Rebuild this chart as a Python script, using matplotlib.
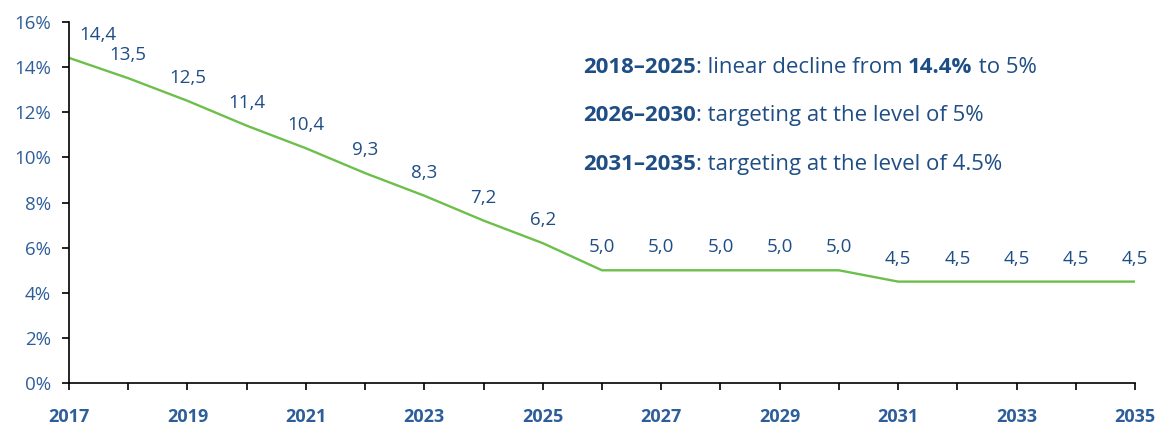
import matplotlib
matplotlib.use("Agg")
import matplotlib.pyplot as plt
from matplotlib.ticker import FixedLocator, FuncFormatter

years = [2017, 2018, 2019, 2020, 2021, 2022, 2023, 2024, 2025, 2026,
         2027, 2028, 2029, 2030, 2031, 2032, 2033, 2034, 2035]
values = [14.4, 13.5, 12.5, 11.4, 10.4, 9.3, 8.3, 7.2, 6.2, 5.0,
          5.0, 5.0, 5.0, 5.0, 4.5, 4.5, 4.5, 4.5, 4.5]
labels = ["14,4", "13,5", "12,5", "11,4", "10,4", "9,3", "8,3", "7,2", "6,2", "5,0",
          "5,0", "5,0", "5,0", "5,0", "4,5", "4,5", "4,5", "4,5", "4,5"]
y_ticks = [0, 2, 4, 6, 8, 10, 12, 14, 16]
notes = [
    [("2018–2025", "bold"), (": linear decline from ", "normal"), ("14.4%", "bold"), (" to 5%", "normal")],
    [("2026–2030", "bold"), (": targeting at the level of 5%", "normal")],
    [("2031–2035", "bold"), (": targeting at the level of 4.5%", "normal")],
]

FONT = "Open Sans"
LINE_C = "#6CBF4A"
TXT_C = "#1F4E85"
TICK_C = "#2E5E9A"

fig = plt.figure(figsize=(11.57, 4.26), dpi=100)
ax = fig.add_axes([69/1157, 1-383.3/426, (1135-69)/1157, (383.3-21.7)/426])

ax.plot(years, values, color=LINE_C, lw=1.7, solid_capstyle="butt")
ax.set_xlim(years[0], years[-1])
ax.set_ylim(y_ticks[0], y_ticks[-1])

for i, (x, v, lab) in enumerate(zip(years, values, labels)):
    dx = 21 if i == 0 else 0
    ax.annotate(lab, (x, v), xytext=(dx, 16.5), textcoords="offset points",
                ha="center", va="center", fontsize=13.5, fontfamily=FONT,
                color=TXT_C, clip_on=False)

ax.yaxis.set_major_locator(FixedLocator(y_ticks))
ax.yaxis.set_major_formatter(FuncFormatter(lambda v, p: f"{v:.0f}%"))
ax.xaxis.set_major_locator(FixedLocator(years))
ax.xaxis.set_major_formatter(FuncFormatter(lambda v, p: f"{int(round(v))}" if int(round(v)) % 2 == 1 else ""))

for s in ["top", "right"]:
    ax.spines[s].set_visible(False)
for s in ["left", "bottom"]:
    ax.spines[s].set_linewidth(1.2)
    ax.spines[s].set_color("black")
ax.tick_params(axis="both", direction="out", length=5, width=1.2, color="black")
ax.tick_params(axis="x", pad=13)
ax.tick_params(axis="y", pad=8)
for t in ax.get_xticklabels():
    t.set_fontfamily(FONT); t.set_fontsize(13); t.set_color(TICK_C); t.set_fontweight("bold")
for t in ax.get_yticklabels():
    t.set_fontfamily(FONT); t.set_fontsize(13.5); t.set_color(TICK_C)

# annotation block with mixed weights
fig.canvas.draw()
renderer = fig.canvas.get_renderer()
x0 = 583 / 1157
baselines = [73, 121, 170]
for line, yb in zip(notes, baselines):
    x = x0
    for txt, w in line:
        t = fig.text(x, 1 - yb/426, txt, fontfamily=FONT, fontweight=w, fontsize=16,
                     color=TXT_C, ha="left", va="baseline")
        bb = t.get_window_extent(renderer)
        x = bb.x1 / fig.bbox.width

fig.savefig("out.png", dpi=100)
